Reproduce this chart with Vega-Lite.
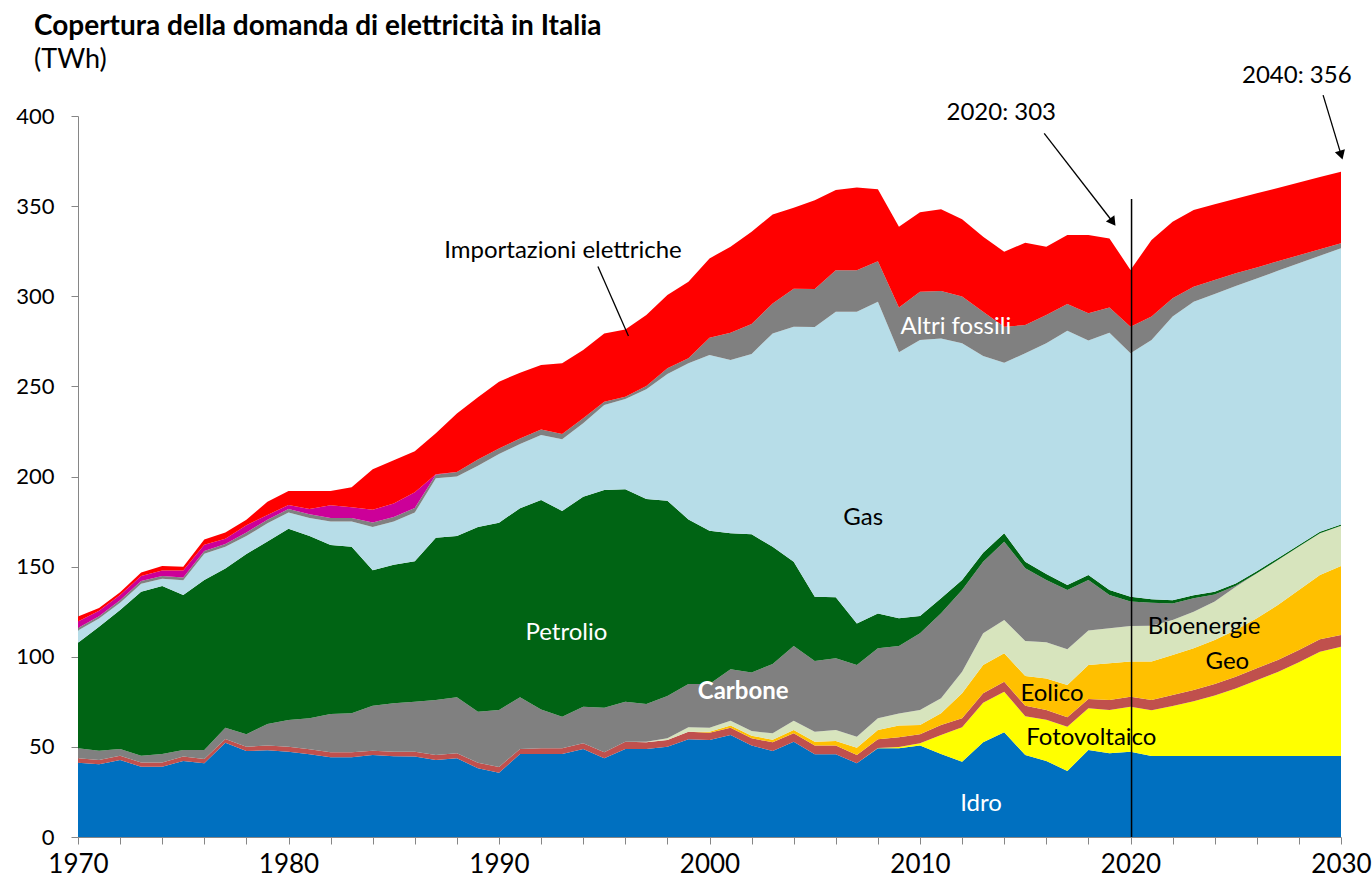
{
"$schema": "https://vega.github.io/schema/vega-lite/v6.json",
"width": 1263,
"height": 721,
"autosize": {"type": "none"},
"padding": {"left": 78, "top": 116, "right": 31, "bottom": 53},
"background": "white",
"config": {"view": {"stroke": null}, "font": "Lato"},
"title": {"text": "Copertura della domanda di elettricità in Italia", "subtitle": "(TWh)", "anchor": "start", "frame": "group", "dx": -44, "offset": -9, "font": "Lato", "fontSize": 28, "fontWeight": "bold", "color": "black", "subtitleFont": "Lato", "subtitleFontSize": 27, "subtitleColor": "black", "subtitlePadding": 6},
"layer": [
{
"data": {"values": [
{"anno":1970,"fonte":"Idro","TWh":41.2},{"anno":1971,"fonte":"Idro","TWh":40.3},{"anno":1972,"fonte":"Idro","TWh":42.7},{"anno":1973,"fonte":"Idro","TWh":39.0},{"anno":1974,"fonte":"Idro","TWh":39.0},{"anno":1975,"fonte":"Idro","TWh":42.2},{"anno":1976,"fonte":"Idro","TWh":40.9},{"anno":1977,"fonte":"Idro","TWh":52.3},{"anno":1978,"fonte":"Idro","TWh":47.7},{"anno":1979,"fonte":"Idro","TWh":48.1},{"anno":1980,"fonte":"Idro","TWh":47.3},{"anno":1981,"fonte":"Idro","TWh":45.9},{"anno":1982,"fonte":"Idro","TWh":44.2},{"anno":1983,"fonte":"Idro","TWh":44.2},{"anno":1984,"fonte":"Idro","TWh":45.5},{"anno":1985,"fonte":"Idro","TWh":44.8},{"anno":1986,"fonte":"Idro","TWh":44.6},{"anno":1987,"fonte":"Idro","TWh":42.7},{"anno":1988,"fonte":"Idro","TWh":43.7},{"anno":1989,"fonte":"Idro","TWh":38.1},{"anno":1990,"fonte":"Idro","TWh":35.7},{"anno":1991,"fonte":"Idro","TWh":46.0},{"anno":1992,"fonte":"Idro","TWh":46.0},{"anno":1993,"fonte":"Idro","TWh":46.0},{"anno":1994,"fonte":"Idro","TWh":48.8},{"anno":1995,"fonte":"Idro","TWh":43.7},{"anno":1996,"fonte":"Idro","TWh":48.8},{"anno":1997,"fonte":"Idro","TWh":48.8},{"anno":1998,"fonte":"Idro","TWh":50.1},{"anno":1999,"fonte":"Idro","TWh":54.2},{"anno":2000,"fonte":"Idro","TWh":53.8},{"anno":2001,"fonte":"Idro","TWh":56.6},{"anno":2002,"fonte":"Idro","TWh":50.7},{"anno":2003,"fonte":"Idro","TWh":47.7},{"anno":2004,"fonte":"Idro","TWh":52.9},{"anno":2005,"fonte":"Idro","TWh":45.9},{"anno":2006,"fonte":"Idro","TWh":45.9},{"anno":2007,"fonte":"Idro","TWh":40.9},{"anno":2008,"fonte":"Idro","TWh":49.2},{"anno":2009,"fonte":"Idro","TWh":49.3},{"anno":2010,"fonte":"Idro","TWh":50.7},{"anno":2011,"fonte":"Idro","TWh":46.0},{"anno":2012,"fonte":"Idro","TWh":41.8},{"anno":2013,"fonte":"Idro","TWh":52.5},{"anno":2014,"fonte":"Idro","TWh":58.1},{"anno":2015,"fonte":"Idro","TWh":45.5},{"anno":2016,"fonte":"Idro","TWh":42.2},{"anno":2017,"fonte":"Idro","TWh":36.6},{"anno":2018,"fonte":"Idro","TWh":48.3},{"anno":2019,"fonte":"Idro","TWh":46.4},{"anno":2020,"fonte":"Idro","TWh":47.3},{"anno":2021,"fonte":"Idro","TWh":45.0},{"anno":2022,"fonte":"Idro","TWh":45.0},{"anno":2023,"fonte":"Idro","TWh":45.0},{"anno":2024,"fonte":"Idro","TWh":45.0},{"anno":2025,"fonte":"Idro","TWh":45.0},{"anno":2026,"fonte":"Idro","TWh":45.0},{"anno":2027,"fonte":"Idro","TWh":45.0},{"anno":2028,"fonte":"Idro","TWh":45.0},{"anno":2029,"fonte":"Idro","TWh":45.0},{"anno":2030,"fonte":"Idro","TWh":45.0},
{"anno":2007,"fonte":"Fotovoltaico","TWh":0},{"anno":2008,"fonte":"Fotovoltaico","TWh":0.2},{"anno":2009,"fonte":"Fotovoltaico","TWh":0.7},{"anno":2010,"fonte":"Fotovoltaico","TWh":1.3},{"anno":2011,"fonte":"Fotovoltaico","TWh":10.6},{"anno":2012,"fonte":"Fotovoltaico","TWh":19.1},{"anno":2013,"fonte":"Fotovoltaico","TWh":22.0},{"anno":2014,"fonte":"Fotovoltaico","TWh":22.5},{"anno":2015,"fonte":"Fotovoltaico","TWh":21.5},{"anno":2016,"fonte":"Fotovoltaico","TWh":22.8},{"anno":2017,"fonte":"Fotovoltaico","TWh":24.6},{"anno":2018,"fonte":"Fotovoltaico","TWh":23.1},{"anno":2019,"fonte":"Fotovoltaico","TWh":24.1},{"anno":2020,"fonte":"Fotovoltaico","TWh":25.0},{"anno":2021,"fonte":"Fotovoltaico","TWh":25.3},{"anno":2022,"fonte":"Fotovoltaico","TWh":27.7},{"anno":2023,"fonte":"Fotovoltaico","TWh":30.3},{"anno":2024,"fonte":"Fotovoltaico","TWh":33.5},{"anno":2025,"fonte":"Fotovoltaico","TWh":37.4},{"anno":2026,"fonte":"Fotovoltaico","TWh":42.0},{"anno":2027,"fonte":"Fotovoltaico","TWh":46.5},{"anno":2028,"fonte":"Fotovoltaico","TWh":51.9},{"anno":2029,"fonte":"Fotovoltaico","TWh":57.8},{"anno":2030,"fonte":"Fotovoltaico","TWh":60.6},
{"anno":1970,"fonte":"Geo","TWh":2.5},{"anno":1971,"fonte":"Geo","TWh":2.4},{"anno":1972,"fonte":"Geo","TWh":2.4},{"anno":1973,"fonte":"Geo","TWh":2.4},{"anno":1974,"fonte":"Geo","TWh":2.4},{"anno":1975,"fonte":"Geo","TWh":2.4},{"anno":1976,"fonte":"Geo","TWh":2.4},{"anno":1977,"fonte":"Geo","TWh":2.1},{"anno":1978,"fonte":"Geo","TWh":2.4},{"anno":1979,"fonte":"Geo","TWh":2.6},{"anno":1980,"fonte":"Geo","TWh":2.8},{"anno":1981,"fonte":"Geo","TWh":2.8},{"anno":1982,"fonte":"Geo","TWh":2.8},{"anno":1983,"fonte":"Geo","TWh":2.8},{"anno":1984,"fonte":"Geo","TWh":2.4},{"anno":1985,"fonte":"Geo","TWh":2.5},{"anno":1986,"fonte":"Geo","TWh":2.7},{"anno":1987,"fonte":"Geo","TWh":2.8},{"anno":1988,"fonte":"Geo","TWh":2.7},{"anno":1989,"fonte":"Geo","TWh":3.1},{"anno":1990,"fonte":"Geo","TWh":3.2},{"anno":1991,"fonte":"Geo","TWh":2.8},{"anno":1992,"fonte":"Geo","TWh":3.2},{"anno":1993,"fonte":"Geo","TWh":3.2},{"anno":1994,"fonte":"Geo","TWh":3.2},{"anno":1995,"fonte":"Geo","TWh":3.3},{"anno":1996,"fonte":"Geo","TWh":4.1},{"anno":1997,"fonte":"Geo","TWh":3.7},{"anno":1998,"fonte":"Geo","TWh":3.7},{"anno":1999,"fonte":"Geo","TWh":4.2},{"anno":2000,"fonte":"Geo","TWh":4.1},{"anno":2001,"fonte":"Geo","TWh":4.0},{"anno":2002,"fonte":"Geo","TWh":4.1},{"anno":2003,"fonte":"Geo","TWh":4.8},{"anno":2004,"fonte":"Geo","TWh":4.6},{"anno":2005,"fonte":"Geo","TWh":4.8},{"anno":2006,"fonte":"Geo","TWh":4.8},{"anno":2007,"fonte":"Geo","TWh":4.6},{"anno":2008,"fonte":"Geo","TWh":4.8},{"anno":2009,"fonte":"Geo","TWh":5.3},{"anno":2010,"fonte":"Geo","TWh":5.0},{"anno":2011,"fonte":"Geo","TWh":5.5},{"anno":2012,"fonte":"Geo","TWh":5.0},{"anno":2013,"fonte":"Geo","TWh":5.2},{"anno":2014,"fonte":"Geo","TWh":5.6},{"anno":2015,"fonte":"Geo","TWh":5.8},{"anno":2016,"fonte":"Geo","TWh":5.5},{"anno":2017,"fonte":"Geo","TWh":5.2},{"anno":2018,"fonte":"Geo","TWh":5.2},{"anno":2019,"fonte":"Geo","TWh":5.5},{"anno":2020,"fonte":"Geo","TWh":5.5},{"anno":2021,"fonte":"Geo","TWh":5.7},{"anno":2022,"fonte":"Geo","TWh":6.1},{"anno":2023,"fonte":"Geo","TWh":6.3},{"anno":2024,"fonte":"Geo","TWh":6.4},{"anno":2025,"fonte":"Geo","TWh":6.5},{"anno":2026,"fonte":"Geo","TWh":6.6},{"anno":2027,"fonte":"Geo","TWh":6.7},{"anno":2028,"fonte":"Geo","TWh":6.8},{"anno":2029,"fonte":"Geo","TWh":6.9},{"anno":2030,"fonte":"Geo","TWh":6.5},
{"anno":1999,"fonte":"Eolico","TWh":0},{"anno":2000,"fonte":"Eolico","TWh":0.5},{"anno":2001,"fonte":"Eolico","TWh":1.2},{"anno":2002,"fonte":"Eolico","TWh":1.4},{"anno":2003,"fonte":"Eolico","TWh":1.5},{"anno":2004,"fonte":"Eolico","TWh":1.9},{"anno":2005,"fonte":"Eolico","TWh":2.2},{"anno":2006,"fonte":"Eolico","TWh":2.6},{"anno":2007,"fonte":"Eolico","TWh":4.0},{"anno":2008,"fonte":"Eolico","TWh":5.2},{"anno":2009,"fonte":"Eolico","TWh":6.5},{"anno":2010,"fonte":"Eolico","TWh":5.1},{"anno":2011,"fonte":"Eolico","TWh":6.5},{"anno":2012,"fonte":"Eolico","TWh":13.8},{"anno":2013,"fonte":"Eolico","TWh":15.7},{"anno":2014,"fonte":"Eolico","TWh":15.7},{"anno":2015,"fonte":"Eolico","TWh":16.5},{"anno":2016,"fonte":"Eolico","TWh":17.5},{"anno":2017,"fonte":"Eolico","TWh":17.9},{"anno":2018,"fonte":"Eolico","TWh":18.8},{"anno":2019,"fonte":"Eolico","TWh":20.4},{"anno":2020,"fonte":"Eolico","TWh":19.5},{"anno":2021,"fonte":"Eolico","TWh":21.3},{"anno":2022,"fonte":"Eolico","TWh":22.2},{"anno":2023,"fonte":"Eolico","TWh":23.1},{"anno":2024,"fonte":"Eolico","TWh":24.4},{"anno":2025,"fonte":"Eolico","TWh":25.9},{"anno":2026,"fonte":"Eolico","TWh":27.7},{"anno":2027,"fonte":"Eolico","TWh":30.5},{"anno":2028,"fonte":"Eolico","TWh":33.3},{"anno":2029,"fonte":"Eolico","TWh":35.7},{"anno":2030,"fonte":"Eolico","TWh":38.2},
{"anno":1996,"fonte":"Bioenergie","TWh":0},{"anno":1997,"fonte":"Bioenergie","TWh":0.3},{"anno":1998,"fonte":"Bioenergie","TWh":1.0},{"anno":1999,"fonte":"Bioenergie","TWh":2.5},{"anno":2000,"fonte":"Bioenergie","TWh":2.2},{"anno":2001,"fonte":"Bioenergie","TWh":2.7},{"anno":2002,"fonte":"Bioenergie","TWh":2.6},{"anno":2003,"fonte":"Bioenergie","TWh":3.5},{"anno":2004,"fonte":"Bioenergie","TWh":5.1},{"anno":2005,"fonte":"Bioenergie","TWh":5.5},{"anno":2006,"fonte":"Bioenergie","TWh":6.1},{"anno":2007,"fonte":"Bioenergie","TWh":6.1},{"anno":2008,"fonte":"Bioenergie","TWh":6.5},{"anno":2009,"fonte":"Bioenergie","TWh":6.7},{"anno":2010,"fonte":"Bioenergie","TWh":8.4},{"anno":2011,"fonte":"Bioenergie","TWh":8.4},{"anno":2012,"fonte":"Bioenergie","TWh":12.0},{"anno":2013,"fonte":"Bioenergie","TWh":17.6},{"anno":2014,"fonte":"Bioenergie","TWh":18.5},{"anno":2015,"fonte":"Bioenergie","TWh":19.4},{"anno":2016,"fonte":"Bioenergie","TWh":20.0},{"anno":2017,"fonte":"Bioenergie","TWh":19.8},{"anno":2018,"fonte":"Bioenergie","TWh":19.1},{"anno":2019,"fonte":"Bioenergie","TWh":19.4},{"anno":2020,"fonte":"Bioenergie","TWh":19.8},{"anno":2021,"fonte":"Bioenergie","TWh":19.9},{"anno":2022,"fonte":"Bioenergie","TWh":19.4},{"anno":2023,"fonte":"Bioenergie","TWh":20.3},{"anno":2024,"fonte":"Bioenergie","TWh":21.3},{"anno":2025,"fonte":"Bioenergie","TWh":24.1},{"anno":2026,"fonte":"Bioenergie","TWh":25.0},{"anno":2027,"fonte":"Bioenergie","TWh":25.0},{"anno":2028,"fonte":"Bioenergie","TWh":24.1},{"anno":2029,"fonte":"Bioenergie","TWh":23.1},{"anno":2030,"fonte":"Bioenergie","TWh":22.4},
{"anno":1970,"fonte":"Carbone","TWh":5.5},{"anno":1971,"fonte":"Carbone","TWh":5.2},{"anno":1972,"fonte":"Carbone","TWh":3.7},{"anno":1973,"fonte":"Carbone","TWh":3.7},{"anno":1974,"fonte":"Carbone","TWh":4.6},{"anno":1975,"fonte":"Carbone","TWh":3.7},{"anno":1976,"fonte":"Carbone","TWh":5.0},{"anno":1977,"fonte":"Carbone","TWh":6.2},{"anno":1978,"fonte":"Carbone","TWh":6.9},{"anno":1979,"fonte":"Carbone","TWh":12.0},{"anno":1980,"fonte":"Carbone","TWh":14.8},{"anno":1981,"fonte":"Carbone","TWh":17.2},{"anno":1982,"fonte":"Carbone","TWh":21.2},{"anno":1983,"fonte":"Carbone","TWh":21.6},{"anno":1984,"fonte":"Carbone","TWh":24.9},{"anno":1985,"fonte":"Carbone","TWh":26.9},{"anno":1986,"fonte":"Carbone","TWh":27.8},{"anno":1987,"fonte":"Carbone","TWh":30.5},{"anno":1988,"fonte":"Carbone","TWh":31.1},{"anno":1989,"fonte":"Carbone","TWh":28.3},{"anno":1990,"fonte":"Carbone","TWh":31.6},{"anno":1991,"fonte":"Carbone","TWh":28.7},{"anno":1992,"fonte":"Carbone","TWh":21.6},{"anno":1993,"fonte":"Carbone","TWh":17.5},{"anno":1994,"fonte":"Carbone","TWh":20.3},{"anno":1995,"fonte":"Carbone","TWh":24.7},{"anno":1996,"fonte":"Carbone","TWh":22.2},{"anno":1997,"fonte":"Carbone","TWh":21.0},{"anno":1998,"fonte":"Carbone","TWh":23.4},{"anno":1999,"fonte":"Carbone","TWh":24.0},{"anno":2000,"fonte":"Carbone","TWh":24.3},{"anno":2001,"fonte":"Carbone","TWh":28.5},{"anno":2002,"fonte":"Carbone","TWh":32.4},{"anno":2003,"fonte":"Carbone","TWh":38.5},{"anno":2004,"fonte":"Carbone","TWh":41.5},{"anno":2005,"fonte":"Carbone","TWh":39.2},{"anno":2006,"fonte":"Carbone","TWh":39.7},{"anno":2007,"fonte":"Carbone","TWh":39.8},{"anno":2008,"fonte":"Carbone","TWh":38.8},{"anno":2009,"fonte":"Carbone","TWh":37.5},{"anno":2010,"fonte":"Carbone","TWh":42.5},{"anno":2011,"fonte":"Carbone","TWh":47.1},{"anno":2012,"fonte":"Carbone","TWh":45.3},{"anno":2013,"fonte":"Carbone","TWh":39.7},{"anno":2014,"fonte":"Carbone","TWh":43.4},{"anno":2015,"fonte":"Carbone","TWh":40.4},{"anno":2016,"fonte":"Carbone","TWh":34.6},{"anno":2017,"fonte":"Carbone","TWh":32.9},{"anno":2018,"fonte":"Carbone","TWh":28.1},{"anno":2019,"fonte":"Carbone","TWh":18.5},{"anno":2020,"fonte":"Carbone","TWh":13.5},{"anno":2021,"fonte":"Carbone","TWh":12.8},{"anno":2022,"fonte":"Carbone","TWh":9.1},{"anno":2023,"fonte":"Carbone","TWh":7.5},{"anno":2024,"fonte":"Carbone","TWh":3.9},{"anno":2025,"fonte":"Carbone","TWh":0.5},{"anno":2026,"fonte":"Carbone","TWh":0},
{"anno":1970,"fonte":"Petrolio","TWh":58.6},{"anno":1971,"fonte":"Petrolio","TWh":68.8},{"anno":1972,"fonte":"Petrolio","TWh":77.2},{"anno":1973,"fonte":"Petrolio","TWh":90.9},{"anno":1974,"fonte":"Petrolio","TWh":93.3},{"anno":1975,"fonte":"Petrolio","TWh":86.0},{"anno":1976,"fonte":"Petrolio","TWh":94.3},{"anno":1977,"fonte":"Petrolio","TWh":88.4},{"anno":1978,"fonte":"Petrolio","TWh":100.0},{"anno":1979,"fonte":"Petrolio","TWh":101.3},{"anno":1980,"fonte":"Petrolio","TWh":106.1},{"anno":1981,"fonte":"Petrolio","TWh":101.1},{"anno":1982,"fonte":"Petrolio","TWh":93.8},{"anno":1983,"fonte":"Petrolio","TWh":92.4},{"anno":1984,"fonte":"Petrolio","TWh":75.2},{"anno":1985,"fonte":"Petrolio","TWh":76.8},{"anno":1986,"fonte":"Petrolio","TWh":77.9},{"anno":1987,"fonte":"Petrolio","TWh":90.0},{"anno":1988,"fonte":"Petrolio","TWh":89.5},{"anno":1989,"fonte":"Petrolio","TWh":102.5},{"anno":1990,"fonte":"Petrolio","TWh":103.9},{"anno":1991,"fonte":"Petrolio","TWh":104.9},{"anno":1992,"fonte":"Petrolio","TWh":116.2},{"anno":1993,"fonte":"Petrolio","TWh":114.2},{"anno":1994,"fonte":"Petrolio","TWh":116.5},{"anno":1995,"fonte":"Petrolio","TWh":120.8},{"anno":1996,"fonte":"Petrolio","TWh":117.8},{"anno":1997,"fonte":"Petrolio","TWh":113.7},{"anno":1998,"fonte":"Petrolio","TWh":108.4},{"anno":1999,"fonte":"Petrolio","TWh":91.2},{"anno":2000,"fonte":"Petrolio","TWh":85.0},{"anno":2001,"fonte":"Petrolio","TWh":75.5},{"anno":2002,"fonte":"Petrolio","TWh":76.7},{"anno":2003,"fonte":"Petrolio","TWh":65.0},{"anno":2004,"fonte":"Petrolio","TWh":46.7},{"anno":2005,"fonte":"Petrolio","TWh":35.7},{"anno":2006,"fonte":"Petrolio","TWh":33.9},{"anno":2007,"fonte":"Petrolio","TWh":23.1},{"anno":2008,"fonte":"Petrolio","TWh":19.3},{"anno":2009,"fonte":"Petrolio","TWh":15.3},{"anno":2010,"fonte":"Petrolio","TWh":9.6},{"anno":2011,"fonte":"Petrolio","TWh":8.3},{"anno":2012,"fonte":"Petrolio","TWh":5.6},{"anno":2013,"fonte":"Petrolio","TWh":5.0},{"anno":2014,"fonte":"Petrolio","TWh":4.7},{"anno":2015,"fonte":"Petrolio","TWh":3.6},{"anno":2016,"fonte":"Petrolio","TWh":3.3},{"anno":2017,"fonte":"Petrolio","TWh":2.8},{"anno":2018,"fonte":"Petrolio","TWh":2.8},{"anno":2019,"fonte":"Petrolio","TWh":2.7},{"anno":2020,"fonte":"Petrolio","TWh":2.7},{"anno":2021,"fonte":"Petrolio","TWh":1.9},{"anno":2022,"fonte":"Petrolio","TWh":1.8},{"anno":2023,"fonte":"Petrolio","TWh":1.6},{"anno":2024,"fonte":"Petrolio","TWh":1.5},{"anno":2025,"fonte":"Petrolio","TWh":1.3},{"anno":2026,"fonte":"Petrolio","TWh":1.1},{"anno":2027,"fonte":"Petrolio","TWh":1.0},{"anno":2028,"fonte":"Petrolio","TWh":0.9},{"anno":2029,"fonte":"Petrolio","TWh":0.8},{"anno":2030,"fonte":"Petrolio","TWh":0.7},
{"anno":1970,"fonte":"Gas","TWh":6.7},{"anno":1971,"fonte":"Gas","TWh":4.5},{"anno":1972,"fonte":"Gas","TWh":4.0},{"anno":1973,"fonte":"Gas","TWh":4.5},{"anno":1974,"fonte":"Gas","TWh":4.0},{"anno":1975,"fonte":"Gas","TWh":8.2},{"anno":1976,"fonte":"Gas","TWh":14.5},{"anno":1977,"fonte":"Gas","TWh":12.0},{"anno":1978,"fonte":"Gas","TWh":10.0},{"anno":1979,"fonte":"Gas","TWh":10.0},{"anno":1980,"fonte":"Gas","TWh":9.0},{"anno":1981,"fonte":"Gas","TWh":10.0},{"anno":1982,"fonte":"Gas","TWh":13.0},{"anno":1983,"fonte":"Gas","TWh":14.0},{"anno":1984,"fonte":"Gas","TWh":24.0},{"anno":1985,"fonte":"Gas","TWh":24.0},{"anno":1986,"fonte":"Gas","TWh":27.0},{"anno":1987,"fonte":"Gas","TWh":33.0},{"anno":1988,"fonte":"Gas","TWh":33.0},{"anno":1989,"fonte":"Gas","TWh":34.0},{"anno":1990,"fonte":"Gas","TWh":38.1},{"anno":1991,"fonte":"Gas","TWh":35.6},{"anno":1992,"fonte":"Gas","TWh":36.0},{"anno":1993,"fonte":"Gas","TWh":39.7},{"anno":1994,"fonte":"Gas","TWh":40.7},{"anno":1995,"fonte":"Gas","TWh":47.2},{"anno":1996,"fonte":"Gas","TWh":50.1},{"anno":1997,"fonte":"Gas","TWh":60.9},{"anno":1998,"fonte":"Gas","TWh":70.3},{"anno":1999,"fonte":"Gas","TWh":86.7},{"anno":2000,"fonte":"Gas","TWh":97.5},{"anno":2001,"fonte":"Gas","TWh":96.1},{"anno":2002,"fonte":"Gas","TWh":100.1},{"anno":2003,"fonte":"Gas","TWh":118.4},{"anno":2004,"fonte":"Gas","TWh":130.4},{"anno":2005,"fonte":"Gas","TWh":149.7},{"anno":2006,"fonte":"Gas","TWh":158.4},{"anno":2007,"fonte":"Gas","TWh":172.9},{"anno":2008,"fonte":"Gas","TWh":173.0},{"anno":2009,"fonte":"Gas","TWh":147.6},{"anno":2010,"fonte":"Gas","TWh":153.1},{"anno":2011,"fonte":"Gas","TWh":144.1},{"anno":2012,"fonte":"Gas","TWh":131.3},{"anno":2013,"fonte":"Gas","TWh":109.2},{"anno":2014,"fonte":"Gas","TWh":94.6},{"anno":2015,"fonte":"Gas","TWh":115.7},{"anno":2016,"fonte":"Gas","TWh":128.0},{"anno":2017,"fonte":"Gas","TWh":141.1},{"anno":2018,"fonte":"Gas","TWh":130.0},{"anno":2019,"fonte":"Gas","TWh":142.8},{"anno":2020,"fonte":"Gas","TWh":135.1},{"anno":2021,"fonte":"Gas","TWh":143.8},{"anno":2022,"fonte":"Gas","TWh":157.4},{"anno":2023,"fonte":"Gas","TWh":162.9},{"anno":2024,"fonte":"Gas","TWh":165.2},{"anno":2025,"fonte":"Gas","TWh":165.0},{"anno":2026,"fonte":"Gas","TWh":162.5},{"anno":2027,"fonte":"Gas","TWh":159.4},{"anno":2028,"fonte":"Gas","TWh":156.3},{"anno":2029,"fonte":"Gas","TWh":153.1},{"anno":2030,"fonte":"Gas","TWh":153.2},
{"anno":1970,"fonte":"Altri fossili","TWh":1.5},{"anno":1971,"fonte":"Altri fossili","TWh":1.3},{"anno":1972,"fonte":"Altri fossili","TWh":1.3},{"anno":1973,"fonte":"Altri fossili","TWh":1.5},{"anno":1974,"fonte":"Altri fossili","TWh":1.5},{"anno":1975,"fonte":"Altri fossili","TWh":1.5},{"anno":1976,"fonte":"Altri fossili","TWh":1.5},{"anno":1977,"fonte":"Altri fossili","TWh":1.5},{"anno":1978,"fonte":"Altri fossili","TWh":2.0},{"anno":1979,"fonte":"Altri fossili","TWh":2.0},{"anno":1980,"fonte":"Altri fossili","TWh":2.0},{"anno":1981,"fonte":"Altri fossili","TWh":2.0},{"anno":1982,"fonte":"Altri fossili","TWh":2.0},{"anno":1983,"fonte":"Altri fossili","TWh":2.0},{"anno":1984,"fonte":"Altri fossili","TWh":2.5},{"anno":1985,"fonte":"Altri fossili","TWh":2.5},{"anno":1986,"fonte":"Altri fossili","TWh":2.5},{"anno":1987,"fonte":"Altri fossili","TWh":2.0},{"anno":1988,"fonte":"Altri fossili","TWh":2.5},{"anno":1989,"fonte":"Altri fossili","TWh":3.5},{"anno":1990,"fonte":"Altri fossili","TWh":3.1},{"anno":1991,"fonte":"Altri fossili","TWh":3.1},{"anno":1992,"fonte":"Altri fossili","TWh":3.1},{"anno":1993,"fonte":"Altri fossili","TWh":3.0},{"anno":1994,"fonte":"Altri fossili","TWh":2.8},{"anno":1995,"fonte":"Altri fossili","TWh":1.8},{"anno":1996,"fonte":"Altri fossili","TWh":1.3},{"anno":1997,"fonte":"Altri fossili","TWh":1.8},{"anno":1998,"fonte":"Altri fossili","TWh":3.1},{"anno":1999,"fonte":"Altri fossili","TWh":2.8},{"anno":2000,"fonte":"Altri fossili","TWh":9.6},{"anno":2001,"fonte":"Altri fossili","TWh":15.2},{"anno":2002,"fonte":"Altri fossili","TWh":16.6},{"anno":2003,"fonte":"Altri fossili","TWh":16.6},{"anno":2004,"fonte":"Altri fossili","TWh":21.0},{"anno":2005,"fonte":"Altri fossili","TWh":21.0},{"anno":2006,"fonte":"Altri fossili","TWh":23.0},{"anno":2007,"fonte":"Altri fossili","TWh":23.0},{"anno":2008,"fonte":"Altri fossili","TWh":22.4},{"anno":2009,"fonte":"Altri fossili","TWh":24.8},{"anno":2010,"fonte":"Altri fossili","TWh":26.8},{"anno":2011,"fonte":"Altri fossili","TWh":26.4},{"anno":2012,"fonte":"Altri fossili","TWh":25.9},{"anno":2013,"fonte":"Altri fossili","TWh":24.5},{"anno":2014,"fonte":"Altri fossili","TWh":20.0},{"anno":2015,"fonte":"Altri fossili","TWh":15.6},{"anno":2016,"fonte":"Altri fossili","TWh":15.7},{"anno":2017,"fonte":"Altri fossili","TWh":14.8},{"anno":2018,"fonte":"Altri fossili","TWh":15.1},{"anno":2019,"fonte":"Altri fossili","TWh":14.0},{"anno":2020,"fonte":"Altri fossili","TWh":14.7},{"anno":2021,"fonte":"Altri fossili","TWh":13.0},{"anno":2022,"fonte":"Altri fossili","TWh":10.2},{"anno":2023,"fonte":"Altri fossili","TWh":8.3},{"anno":2024,"fonte":"Altri fossili","TWh":7.8},{"anno":2025,"fonte":"Altri fossili","TWh":7.0},{"anno":2026,"fonte":"Altri fossili","TWh":6.1},{"anno":2027,"fonte":"Altri fossili","TWh":5.3},{"anno":2028,"fonte":"Altri fossili","TWh":4.4},{"anno":2029,"fonte":"Altri fossili","TWh":3.7},{"anno":2030,"fonte":"Altri fossili","TWh":2.8},
{"anno":1970,"fonte":"Nucleare","TWh":3.5},{"anno":1971,"fonte":"Nucleare","TWh":3.0},{"anno":1972,"fonte":"Nucleare","TWh":3.0},{"anno":1973,"fonte":"Nucleare","TWh":2.8},{"anno":1974,"fonte":"Nucleare","TWh":3.0},{"anno":1975,"fonte":"Nucleare","TWh":3.8},{"anno":1976,"fonte":"Nucleare","TWh":3.5},{"anno":1977,"fonte":"Nucleare","TWh":3.0},{"anno":1978,"fonte":"Nucleare","TWh":4.0},{"anno":1979,"fonte":"Nucleare","TWh":2.6},{"anno":1980,"fonte":"Nucleare","TWh":2.2},{"anno":1981,"fonte":"Nucleare","TWh":3.0},{"anno":1982,"fonte":"Nucleare","TWh":7.0},{"anno":1983,"fonte":"Nucleare","TWh":6.0},{"anno":1984,"fonte":"Nucleare","TWh":7.0},{"anno":1985,"fonte":"Nucleare","TWh":7.5},{"anno":1986,"fonte":"Nucleare","TWh":8.8},{"anno":1987,"fonte":"Nucleare","TWh":0.2},{"anno":1988,"fonte":"Nucleare","TWh":0},
{"anno":1970,"fonte":"Importazioni elettriche","TWh":2.8},{"anno":1971,"fonte":"Importazioni elettriche","TWh":1.5},{"anno":1972,"fonte":"Importazioni elettriche","TWh":1.5},{"anno":1973,"fonte":"Importazioni elettriche","TWh":2.0},{"anno":1974,"fonte":"Importazioni elettriche","TWh":2.5},{"anno":1975,"fonte":"Importazioni elettriche","TWh":2.2},{"anno":1976,"fonte":"Importazioni elettriche","TWh":2.9},{"anno":1977,"fonte":"Importazioni elettriche","TWh":3.5},{"anno":1978,"fonte":"Importazioni elettriche","TWh":3.0},{"anno":1979,"fonte":"Importazioni elettriche","TWh":7.4},{"anno":1980,"fonte":"Importazioni elettriche","TWh":7.8},{"anno":1981,"fonte":"Importazioni elettriche","TWh":10.0},{"anno":1982,"fonte":"Importazioni elettriche","TWh":8.0},{"anno":1983,"fonte":"Importazioni elettriche","TWh":11.0},{"anno":1984,"fonte":"Importazioni elettriche","TWh":22.5},{"anno":1985,"fonte":"Importazioni elettriche","TWh":24.0},{"anno":1986,"fonte":"Importazioni elettriche","TWh":22.7},{"anno":1987,"fonte":"Importazioni elettriche","TWh":22.8},{"anno":1988,"fonte":"Importazioni elettriche","TWh":32.5},{"anno":1989,"fonte":"Importazioni elettriche","TWh":34.5},{"anno":1990,"fonte":"Importazioni elettriche","TWh":37.0},{"anno":1991,"fonte":"Importazioni elettriche","TWh":36.5},{"anno":1992,"fonte":"Importazioni elettriche","TWh":35.8},{"anno":1993,"fonte":"Importazioni elettriche","TWh":39.2},{"anno":1994,"fonte":"Importazioni elettriche","TWh":37.9},{"anno":1995,"fonte":"Importazioni elettriche","TWh":37.9},{"anno":1996,"fonte":"Importazioni elettriche","TWh":37.3},{"anno":1997,"fonte":"Importazioni elettriche","TWh":39.4},{"anno":1998,"fonte":"Importazioni elettriche","TWh":40.7},{"anno":1999,"fonte":"Importazioni elettriche","TWh":42.5},{"anno":2000,"fonte":"Importazioni elettriche","TWh":44.0},{"anno":2001,"fonte":"Importazioni elettriche","TWh":47.7},{"anno":2002,"fonte":"Importazioni elettriche","TWh":51.2},{"anno":2003,"fonte":"Importazioni elettriche","TWh":49.4},{"anno":2004,"fonte":"Importazioni elettriche","TWh":45.0},{"anno":2005,"fonte":"Importazioni elettriche","TWh":49.2},{"anno":2006,"fonte":"Importazioni elettriche","TWh":44.5},{"anno":2007,"fonte":"Importazioni elettriche","TWh":46.0},{"anno":2008,"fonte":"Importazioni elettriche","TWh":40.0},{"anno":2009,"fonte":"Importazioni elettriche","TWh":44.9},{"anno":2010,"fonte":"Importazioni elettriche","TWh":44.1},{"anno":2011,"fonte":"Importazioni elettriche","TWh":45.3},{"anno":2012,"fonte":"Importazioni elettriche","TWh":42.9},{"anno":2013,"fonte":"Importazioni elettriche","TWh":41.6},{"anno":2014,"fonte":"Importazioni elettriche","TWh":41.6},{"anno":2015,"fonte":"Importazioni elettriche","TWh":45.7},{"anno":2016,"fonte":"Importazioni elettriche","TWh":37.9},{"anno":2017,"fonte":"Importazioni elettriche","TWh":38.3},{"anno":2018,"fonte":"Importazioni elettriche","TWh":43.5},{"anno":2019,"fonte":"Importazioni elettriche","TWh":38.3},{"anno":2020,"fonte":"Importazioni elettriche","TWh":31.5},{"anno":2021,"fonte":"Importazioni elettriche","TWh":42.5},{"anno":2022,"fonte":"Importazioni elettriche","TWh":42.5},{"anno":2023,"fonte":"Importazioni elettriche","TWh":42.5},{"anno":2024,"fonte":"Importazioni elettriche","TWh":42.0},{"anno":2025,"fonte":"Importazioni elettriche","TWh":41.4},{"anno":2026,"fonte":"Importazioni elettriche","TWh":41.1},{"anno":2027,"fonte":"Importazioni elettriche","TWh":40.7},{"anno":2028,"fonte":"Importazioni elettriche","TWh":40.4},{"anno":2029,"fonte":"Importazioni elettriche","TWh":40.0},{"anno":2030,"fonte":"Importazioni elettriche","TWh":39.7}
]},
"transform": [{"calculate": "indexof(['Idro','Fotovoltaico','Geo','Eolico','Bioenergie','Carbone','Petrolio','Gas','Altri fossili','Nucleare','Importazioni elettriche'], datum.fonte)", "as": "ordine"}],
"mark": {"type": "area", "interpolate": "linear"},
"encoding": {
"x": {"field": "anno", "type": "quantitative", "scale": {"domain": [1970, 2030], "nice": false, "zero": false},
 "axis": {"title": null, "grid": false, "values": [1970,1971,1972,1973,1974,1975,1976,1977,1978,1979,1980,1981,1982,1983,1984,1985,1986,1987,1988,1989,1990,1991,1992,1993,1994,1995,1996,1997,1998,1999,2000,2001,2002,2003,2004,2005,2006,2007,2008,2009,2010,2011,2012,2013,2014,2015,2016,2017,2018,2019,2020,2021,2022,2023,2024,2025,2026,2027,2028,2029,2030], "format": "d", "labelExpr": "datum.value % 5 === 0 ? datum.label : ''", "labelFont": "Lato", "labelFontSize": 26, "labelColor": "black", "labelPadding": 7, "labelFlush": false, "labelOverlap": false, "tickSize": 7, "tickColor": "#868686", "domainColor": "#868686", "domainWidth": 1, "tickWidth": 1}},
"y": {"field": "TWh", "type": "quantitative", "stack": "zero", "scale": {"domain": [0, 400], "nice": false},
 "axis": {"title": null, "grid": false, "values": [0,50,100,150,200,250,300,350,400], "labelFont": "Lato", "labelFontSize": 22, "labelColor": "black", "labelPadding": 17, "tickSize": 7, "tickColor": "#868686", "domainColor": "#868686"}},
"order": {"field": "ordine", "type": "quantitative", "sort": "ascending"},
"color": {"field": "fonte", "type": "nominal",
 "scale": {"domain": ["Idro","Fotovoltaico","Geo","Eolico","Bioenergie","Carbone","Petrolio","Gas","Altri fossili","Nucleare","Importazioni elettriche"], "range": ["#0070C0","#FFFF00","#C0504D","#FFC000","#D7E4BD","#808080","#006414","#B7DDE8","#808080","#CC0099","#FF0000"]}, "legend": null}
}
},
{"data": {"values": [{}]}, "mark": {"type": "rule", "color": "black", "strokeWidth": 1.5}, "encoding": {"x": {"datum": 2020.05}, "y": {"datum": 0}, "y2": {"datum": 354}}},
{"data": {"values": [{}]}, "mark": {"type": "rule", "color": "black", "strokeWidth": 1.3}, "encoding": {"x": {"datum": 1994.7}, "y": {"datum": 316.5}, "x2": {"datum": 1996.15}, "y2": {"datum": 278}}},
{"data": {"values": [{}]}, "mark": {"type": "rule", "color": "black", "strokeWidth": 1.3}, "encoding": {"x": {"datum": 2015.9}, "y": {"datum": 390.4}, "x2": {"datum": 2019.16}, "y2": {"datum": 341.2}}},
{"data": {"values": [{}]}, "mark": {"type": "point", "shape": "triangle-down", "filled": true, "color": "black", "size": 110, "angle": -36, "opacity": 1}, "encoding": {"x": {"datum": 2019.16}, "y": {"datum": 341.2}}},
{"data": {"values": [{}]}, "mark": {"type": "rule", "color": "black", "strokeWidth": 1.3}, "encoding": {"x": {"datum": 2029.15}, "y": {"datum": 411.6}, "x2": {"datum": 2030.01}, "y2": {"datum": 378.3}}},
{"data": {"values": [{}]}, "mark": {"type": "point", "shape": "triangle-down", "filled": true, "color": "black", "size": 110, "angle": -17, "opacity": 1}, "encoding": {"x": {"datum": 2030.01}, "y": {"datum": 378.3}}},
{"data": {"values": [{}]}, "mark": {"type": "text", "text": "Importazioni elettriche", "font": "Lato", "fontSize": 24, "color": "black", "align": "center", "baseline": "middle"}, "encoding": {"x": {"datum": 1993.04}, "y": {"datum": 325.1}}},
{"data": {"values": [{}]}, "mark": {"type": "text", "text": "Altri fossili", "font": "Lato", "fontSize": 24, "color": "white", "align": "center", "baseline": "middle"}, "encoding": {"x": {"datum": 2011.7}, "y": {"datum": 283.1}}},
{"data": {"values": [{}]}, "mark": {"type": "text", "text": "Gas", "font": "Lato", "fontSize": 24, "color": "black", "align": "center", "baseline": "middle"}, "encoding": {"x": {"datum": 2007.3}, "y": {"datum": 177}}},
{"data": {"values": [{}]}, "mark": {"type": "text", "text": "Petrolio", "font": "Lato", "fontSize": 24, "color": "white", "align": "center", "baseline": "middle"}, "encoding": {"x": {"datum": 1993.2}, "y": {"datum": 113.2}}},
{"data": {"values": [{}]}, "mark": {"type": "text", "text": "Carbone", "font": "Lato", "fontSize": 24, "fontWeight": "bold", "color": "white", "align": "center", "baseline": "middle"}, "encoding": {"x": {"datum": 2001.6}, "y": {"datum": 80.4}}},
{"data": {"values": [{}]}, "mark": {"type": "text", "text": "Bioenergie", "font": "Lato", "fontSize": 24, "color": "black", "align": "center", "baseline": "middle"}, "encoding": {"x": {"datum": 2023.5}, "y": {"datum": 116.5}}},
{"data": {"values": [{}]}, "mark": {"type": "text", "text": "Geo", "font": "Lato", "fontSize": 24, "color": "black", "align": "center", "baseline": "middle"}, "encoding": {"x": {"datum": 2024.6}, "y": {"datum": 97}}},
{"data": {"values": [{}]}, "mark": {"type": "text", "text": "Eolico", "font": "Lato", "fontSize": 24, "color": "black", "align": "center", "baseline": "middle"}, "encoding": {"x": {"datum": 2016.27}, "y": {"datum": 79.3}}},
{"data": {"values": [{}]}, "mark": {"type": "text", "text": "Fotovoltaico", "font": "Lato", "fontSize": 24, "color": "black", "align": "center", "baseline": "middle"}, "encoding": {"x": {"datum": 2018.14}, "y": {"datum": 55.2}}},
{"data": {"values": [{}]}, "mark": {"type": "text", "text": "Idro", "font": "Lato", "fontSize": 24, "color": "white", "align": "center", "baseline": "middle"}, "encoding": {"x": {"datum": 2012.9}, "y": {"datum": 18.3}}},
{"data": {"values": [{}]}, "mark": {"type": "text", "text": "2020: 303", "font": "Lato", "fontSize": 24, "color": "black", "align": "center", "baseline": "middle"}, "encoding": {"x": {"datum": 2013.86}, "y": {"datum": 401.7}}},
{"data": {"values": [{}]}, "mark": {"type": "text", "text": "2040: 356", "font": "Lato", "fontSize": 24, "color": "black", "align": "center", "baseline": "middle"}, "encoding": {"x": {"datum": 2027.9}, "y": {"datum": 422.2}}}
]
}
